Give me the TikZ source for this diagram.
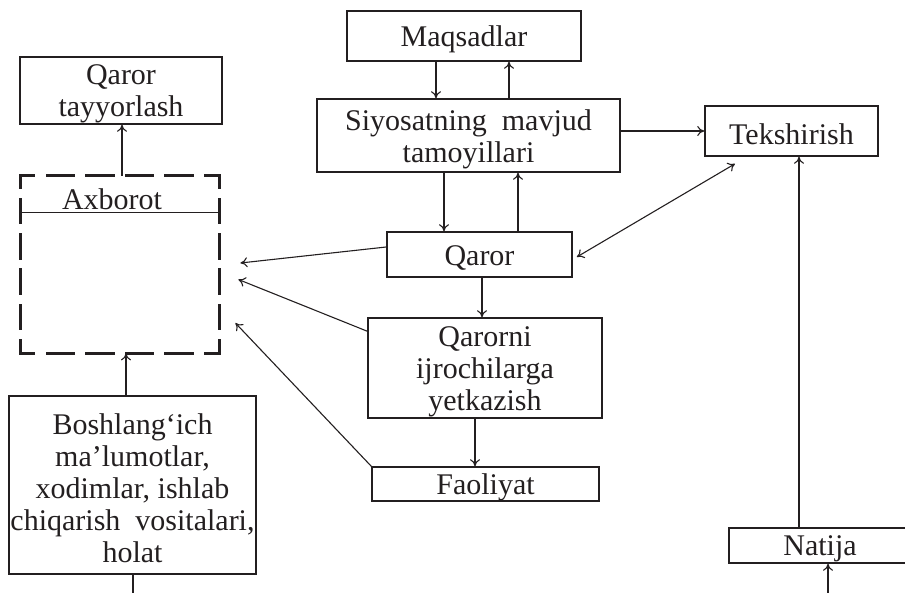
\documentclass[tikz,border=0pt]{standalone}
\usepackage{fontspec}
\setmainfont{Liberation Serif}
\usetikzlibrary{arrows.meta,calc}
\definecolor{ink}{RGB}{35,31,32}
\tikzset{
  txt/.style={font=\fontsize{15}{16}\selectfont, text=ink, align=center,
    inner sep=0pt, yshift=-1.75pt},
  box/.style={draw=ink, line width=0.8pt, rectangle, inner sep=0pt,
    label={[txt]center:{#1}}},
  infobox/.style={rectangle, inner sep=0pt},
  hside/.style={draw=ink, line width=1.5pt, line cap=rect,
    dash pattern=on 13.2pt off 6.6pt, dash phase=6.6pt},
  vside/.style={draw=ink, line width=1.5pt, line cap=rect,
    dash pattern=on 11.8pt off 5.9pt, dash phase=5.9pt},
  link/.style={draw=ink, line width=0.55pt},
  arr/.style={link, -{To[length=3.5pt,width=5pt]}},
  darr/.style={link, {To[length=3.5pt,width=5pt]}-{To[length=3.5pt,width=5pt]}},
  lbl/.style={font=\fontsize{15}{16}\selectfont, text=ink, inner sep=0pt}
}
\begin{document}
\begin{tikzpicture}[x=0.5pt,y=-0.5pt]
\useasboundingbox (0,0) rectangle (905,593);
\clip (0,0) rectangle (905,593);

% left column
\node[box={Qaror\\tayyorlash}, minimum width=101pt, minimum height=33.5pt] (tayyor) at (121,90.5) {};
\node[infobox, minimum width=99pt, minimum height=88.5pt] (axb) at (120,264.5) {};
\node[lbl] (axbt) at (112,199) {Axborot};
\node[box={Boshlang‘ich\\ma’lumotlar,\\xodimlar,~ishlab\\chiqarish~ vositalari,\\holat},
  minimum width=123.5pt, minimum height=89pt] (bosh) at (132.5,485) {};

% central column
\node[box={Maqsadlar}, minimum width=117pt, minimum height=25pt] (maq) at (464,36) {};
\node[box={Siyosatning~ mavjud\\tamoyillari}, minimum width=151.5pt, minimum height=36.5pt] (siy) at (468.5,135.5) {};
\node[box={Qaror}, minimum width=92.5pt, minimum height=22.5pt] (qaror) at (479.5,254.5) {};
\node[box={Qarorni\\ijrochilarga\\yetkazish}, minimum width=117pt, minimum height=50pt] (qij) at (485,368) {};
\node[box={Faoliyat}, minimum width=113.5pt, minimum height=17pt] (fao) at (485.5,484) {};

% right column
\node[box={Tekshirish}, minimum width=86.5pt, minimum height=25pt] (tek) at (791.5,131) {};
\node[box={Natija}, minimum width=91pt, minimum height=17.5pt] (nat) at (820,545.5) {};

% dashed frame of the information block
\draw[hside] (axb.north west) -- (axb.north east);
\draw[hside] (axb.south west) -- (axb.south east);
\draw[vside] (axb.north west) -- (axb.south west);
\draw[vside] (axb.north east) -- (axb.south east);

% free ends entering from below
\coordinate (boshin) at (133,593);
\coordinate (natin) at (824,593);

% divider under the heading of the information block
\draw[link] ([yshift=-18.5pt]axb.north west) -- ([yshift=-18.5pt,xshift=-0.5pt]axb.north east);

% vertical links
\draw[arr] ([xshift=1pt]axb.north) -- ([xshift=1pt]axb.north |- tayyor.south);
\draw[arr] ([xshift=-3.25pt]bosh.north) -- ([xshift=-3.25pt]bosh.north |- axb.south);
\draw[link] (boshin) -- (boshin |- bosh.south);
\draw[arr] ([xshift=-14pt]maq.south) -- ([xshift=-14pt]maq.south |- siy.north);
\draw[arr] ([xshift=22.5pt]maq.south |- siy.north) -- ([xshift=22.5pt]maq.south);
\draw[arr] ([xshift=-17.75pt]qaror.north |- siy.south) -- ([xshift=-17.75pt]qaror.north);
\draw[arr] ([xshift=19.25pt]qaror.north) -- ([xshift=19.25pt]qaror.north |- siy.south);
\draw[arr] ([xshift=1.25pt]qaror.south) -- ([xshift=1.25pt]qaror.south |- qij.north);
\draw[arr] ([xshift=-5pt]qij.south) -- ([xshift=-5pt]qij.south |- fao.north);
\draw[arr] ([xshift=2pt]natin) -- ([xshift=2pt]natin |- nat.south);
\draw[arr] ([xshift=-10.5pt]nat.north) -- ([xshift=-10.5pt]nat.north |- tek.south);

% links to the check block
\draw[arr] (siy.east |- tek.west) -- (tek.west);
\draw[darr] ([xshift=2pt,yshift=-1.25pt]qaror.east) -- ([xshift=-28.25pt,yshift=-3.5pt]tek.south);

% feedback into the information block
\draw[arr] ([yshift=3.75pt]qaror.west) -- ([xshift=10.5pt,yshift=0.75pt]axb.east);
\draw[arr] ([yshift=-7pt]qij.north west) -- ([xshift=9.5pt,yshift=-7.5pt]axb.east);
\draw[arr] (fao.north west) -- ([xshift=8pt,yshift=-29.25pt]axb.east);
\end{tikzpicture}
\end{document}
